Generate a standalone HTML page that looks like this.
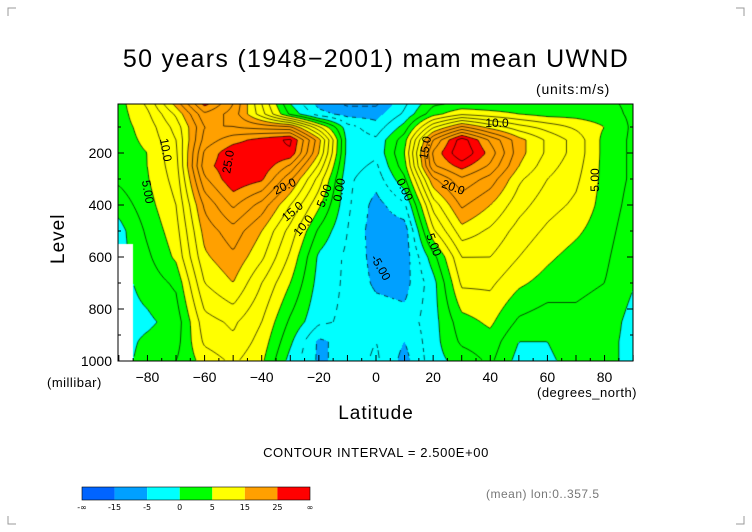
<!DOCTYPE html>
<html><head><meta charset="utf-8">
<style>
html,body{margin:0;padding:0;background:#fff;}
#wrap{position:relative;width:752px;height:532px;overflow:hidden;font-family:"Liberation Sans",sans-serif;color:#000;}
.t{position:absolute;white-space:nowrap;}
canvas{position:absolute;left:0;top:0;}
svg{position:absolute;left:0;top:0;}
</style></head>
<body>
<div id="wrap">
<canvas id="cv" width="752" height="532"></canvas>
<svg id="ov" width="752" height="532"></svg>
<div class="t" style="left:0;width:752px;text-align:center;top:45px;font-size:25px;letter-spacing:1.3px;">50 years (1948−2001) mam mean UWND</div>
<div class="t" style="left:536px;top:81px;font-size:14px;letter-spacing:0.8px;">(units:m/s)</div>
<div class="t" style="left:30px;top:222px;font-size:19px;transform:rotate(-90deg);transform-origin:30px 12px;letter-spacing:1px;">Level</div>
<div class="t" style="left:47px;top:375px;font-size:13px;letter-spacing:0.5px;">(millibar)</div>
<div class="t" style="left:537px;top:385px;font-size:13px;letter-spacing:0.5px;">(degrees_north)</div>
<div class="t" style="left:0;width:752px;text-align:center;top:403px;font-size:19px;letter-spacing:1px;">Latitude</div>
<div class="t" style="left:0;width:752px;text-align:center;top:445px;font-size:13px;letter-spacing:0.6px;">CONTOUR INTERVAL = 2.500E+00</div>
<div class="t" style="left:486px;top:487px;font-size:12px;color:#777;letter-spacing:0.5px;">(mean) lon:0..357.5</div>
</div>
<script>
// ---- data ----
const lats = [-90,-80,-70,-60,-50,-40,-30,-20,-10,0,10,20,30,40,50,60,70,80,90];
const levels = [10,50,100,150,200,250,300,400,500,600,700,850,925,1000];
const u10   = [4,8,16,26,20,10,0,-6,-8,-8,-3,2,3,3,3,3,3,3,2];
const u50   = [4,7,13,22,19,11,2,-4,-6,-6,-2,4,7,6,5,4,4,3.5,2];
const u100  = [4,6,11,20,20,19,18,8,-1.5,-4,1,12,18,14,11,9,7,5,2];
const u150  = [4,5.5,10,21,24,26,28,16,-1,-2,4,20,29,22,16,12,9,4.2,2];
const u200  = [4,5,9.5,23,27,27.5,27,15,-1,-2,5,23,30,24,16,12,9,4.2,2];
const u250  = [3,5,9,24,27,27,22,12,-1.5,-3,4,22,26,22,15,11,8.5,4.2,2];
const u300  = [3,4.8,8.5,22,27,25.5,18,9,-2,-4,2,17,22,19,13,10,8,4.2,2];
const u400  = [1,4,7.5,18,23,19,12.5,5.5,-2,-6,-3,11,18,15,11,8.5,7,4,1.5];
const u500  = [-1,3,6.5,16,19,15,9,2,-2.5,-6.5,-6.5,7,14,12,9,7,5.5,3.5,1];
const u600  = [NaN,2,5.5,14.5,17,13,7,-0.5,-3,-6,-6.5,1.5,10,10,7.5,5.5,4,3,0.5];
const u700  = [NaN,1,3,12.5,15,10,5,-1,-3,-5.5,-6,-1,8,8,5.5,4,3,2.5,0.2];
const u850  = [NaN,-0.5,1,9,10.5,7.5,2,-2,-3,-3.5,-4,-1,4,5.5,2,1,2,1.5,-1];
const u925  = [NaN,0.5,1.5,8,9.5,6.5,0.5,-5.5,-4,-2.5,-5,-1,3,4,0,0,1.5,1,-1];
const u1000 = [NaN,1,2.5,6,8,5.5,-1,-5.5,-4,-2,-6,-1,1,3,-1,-0.5,1,1,-1];
const rows = [u10,u50,u100,u150,u200,u250,u300,u400,u500,u600,u700,u850,u925,u1000];
const bounds = [-15,-5,0,5,15,25];
const fillColors = ['#0064ff','#00a0ff','#00ffff','#00ff00','#ffff00','#ffa000','#ff0000'];
const barLabels = ['-∞','-15','-5','0','5','15','25','∞'];
const xTicks = [-80,-60,-40,-20,0,20,40,60,80];
const yTicks = [200,400,600,800,1000];

// ---- axes ----
const X0=118, X1=633, Y0=104, Y1=361;
const xs = lat => 376 + (lat)*2.857;
const ys = p => 101 + p*0.26;
const latOf = x => (x-376)/2.857;
const pOf = y => (y-101)/0.26;

function locate(arr,v){ for(let i=0;i<arr.length-1;i++){ if(v<=arr[i+1]) return i; } return arr.length-2; }
function val(r,c){ const v=rows[r][c]; return isNaN(v)?-1:v; }
function isMissing(lat,p){
  const c=Math.round((lat+90)/10); let r=0,best=1e9;
  levels.forEach((l,i)=>{const d=Math.abs(l-p); if(d<best){best=d;r=i;}});
  return isNaN(rows[r][Math.max(0,Math.min(18,c))]);
}
function interp(lat,p){
  const c=locate(lats,lat), r=locate(levels,p);
  let tx=(lat-lats[c])/(lats[c+1]-lats[c]); tx=Math.max(0,Math.min(1,tx));
  let ty=(p-levels[r])/(levels[r+1]-levels[r]); ty=Math.max(0,Math.min(1,ty));
  const a=val(r,c),b=val(r,c+1),d=val(r+1,c),e=val(r+1,c+1);
  return (a*(1-tx)+b*tx)*(1-ty)+(d*(1-tx)+e*tx)*ty;
}
function colorIdx(v){ let i=0; while(i<bounds.length && v>=bounds[i]) i++; return i; }
function hex(h){return [parseInt(h.substr(1,2),16),parseInt(h.substr(3,2),16),parseInt(h.substr(5,2),16)];}
const rgb = fillColors.map(hex);

const cv=document.getElementById('cv'), ctx=cv.getContext('2d');
const img=ctx.createImageData(X1-X0,Y1-Y0);
for(let y=Y0;y<Y1;y++){ for(let x=X0;x<X1;x++){
  const lat=latOf(x+0.5), p=pOf(y+0.5); const k=((y-Y0)*(X1-X0)+(x-X0))*4;
  let col=[255,255,255];
  if(!isMissing(lat,p)) col=rgb[colorIdx(interp(lat,p))];
  img.data[k]=col[0];img.data[k+1]=col[1];img.data[k+2]=col[2];img.data[k+3]=255;
}}
ctx.putImageData(img,X0,Y0);

// contour lines by marching squares
const S=2, nx=Math.floor((X1-X0)/S)+1, ny=Math.floor((Y1-Y0)/S)+1;
const G=[], M=[];
for(let j=0;j<ny;j++){G.push([]);M.push([]);for(let i=0;i<nx;i++){const x=X0+i*S,y=Y0+j*S;G[j].push(interp(latOf(x),pOf(y)));M[j].push(isMissing(latOf(x),pOf(y)));}}
ctx.save(); ctx.beginPath(); ctx.rect(X0,Y0,X1-X0,Y1-Y0); ctx.clip();
ctx.strokeStyle='#000'; ctx.lineWidth=0.7;
for(let lv=-15; lv<=30; lv+=2.5){
  ctx.beginPath();
  for(let j=0;j<ny-1;j++)for(let i=0;i<nx-1;i++){
    if(M[j][i]||M[j][i+1]||M[j+1][i]||M[j+1][i+1]) continue;
    const v=[G[j][i],G[j][i+1],G[j+1][i+1],G[j+1][i]];
    const P=[[i,j],[i+1,j],[i+1,j+1],[i,j+1]];
    const pts=[];
    for(let e=0;e<4;e++){const a=v[e],b=v[(e+1)%4];
      if((a<lv)!==(b<lv)){const t=(lv-a)/(b-a);const pa=P[e],pb=P[(e+1)%4];
        pts.push([X0+S*(pa[0]+(pb[0]-pa[0])*t),Y0+S*(pa[1]+(pb[1]-pa[1])*t)]);}}
    for(let q=0;q+1<pts.length;q+=2){
      if(lv<0 && Math.floor((pts[q][0]+pts[q][1])/5)%2===1) continue;
      ctx.moveTo(pts[q][0],pts[q][1]);ctx.lineTo(pts[q+1][0],pts[q+1][1]);}
  }
  ctx.stroke();
}
ctx.restore();

// ---- SVG overlay ----
const NS='http://www.w3.org/2000/svg', ov=document.getElementById('ov');
function mk(tag,attrs,parent){const e=document.createElementNS(NS,tag);for(const k in attrs)e.setAttribute(k,attrs[k]);(parent||ov).appendChild(e);return e;}
const frame=mk('rect',{x:X0,y:Y0,width:X1-X0,height:Y1-Y0,fill:'none',stroke:'#000','stroke-width':1});


for(let lat=-90;lat<=90;lat+=5){const x=xs(lat),len=(lat%10===0)?6:3;
  const tk=mk('line',{x1:x,x2:x,y1:Y1,y2:Y1-len,stroke:'#000','stroke-width':1});
  
  }
for(let p=100;p<=1000;p+=100){const y=ys(p),len=(p%200===0)?6:3;
  const tk=mk('line',{x1:X0,x2:X0+len,y1:y,y2:y,stroke:'#000','stroke-width':1});
  
  
  const tk2=mk('line',{x1:X1,x2:X1-len,y1:y,y2:y,stroke:'#000','stroke-width':1});
  
  }
xTicks.forEach(v=>{const t=mk('text',{x:xs(v),y:382,'text-anchor':'middle','font-size':14,'font-family':'Liberation Sans, sans-serif'});t.textContent=(v<0?'−'+(-v):v);
  
  });
yTicks.forEach(v=>{const t=mk('text',{x:112,y:ys(v)+5,'text-anchor':'end','font-size':14,'font-family':'Liberation Sans, sans-serif'});t.textContent=v;
  
  });
// contour labels
const cl=[['10.0',165,150,80],['5.00',147,192,80],['25.0',229,162,-80],['20.0',285,187,-25],['15.0',293,212,-40],['10.0',304,226,-50],['5.00',325,196,-70],['0.00',340,190,-80],['0.00',404,190,65],['5.00',433,245,70],['-5.00',380,268,60],['10.0',497,124,0],['15.0',426,148,-80],['20.0',453,188,20],['5.00',596,180,-90]];
cl.forEach(c=>{const t=mk('text',{x:c[1],y:c[2],'text-anchor':'middle','dominant-baseline':'middle','font-size':12,'font-family':'Liberation Sans, sans-serif',transform:`rotate(${c[3]} ${c[1]} ${c[2]})`});t.textContent=c[0];
  
  });
// colorbar
const bx=82,bw=228,by=487,bh=13,sw=bw/fillColors.length;
fillColors.forEach((c,i)=>{const r=mk('rect',{x:bx+i*sw,y:by,width:sw,height:bh,fill:c});
  
  });
const cbf=mk('rect',{x:bx,y:by,width:bw,height:bh,fill:'none',stroke:'#000','stroke-width':0.6});


barLabels.forEach((s,i)=>{const t=mk('text',{x:bx+i*sw,y:510,'text-anchor':'middle','font-size':8,'font-family':'DejaVu Sans, sans-serif'});t.textContent=s;
  
  });
// corner marks
[[8,8,1,1],[744,8,-1,1],[8,524,1,-1],[744,524,-1,-1]].forEach(c=>{const pl=mk('polyline',{points:`${c[0]+c[2]*8},${c[1]} ${c[0]},${c[1]} ${c[0]},${c[1]+c[3]*8}`,fill:'none',stroke:'#999','stroke-width':1});
  
  });
</script>
</body></html>
